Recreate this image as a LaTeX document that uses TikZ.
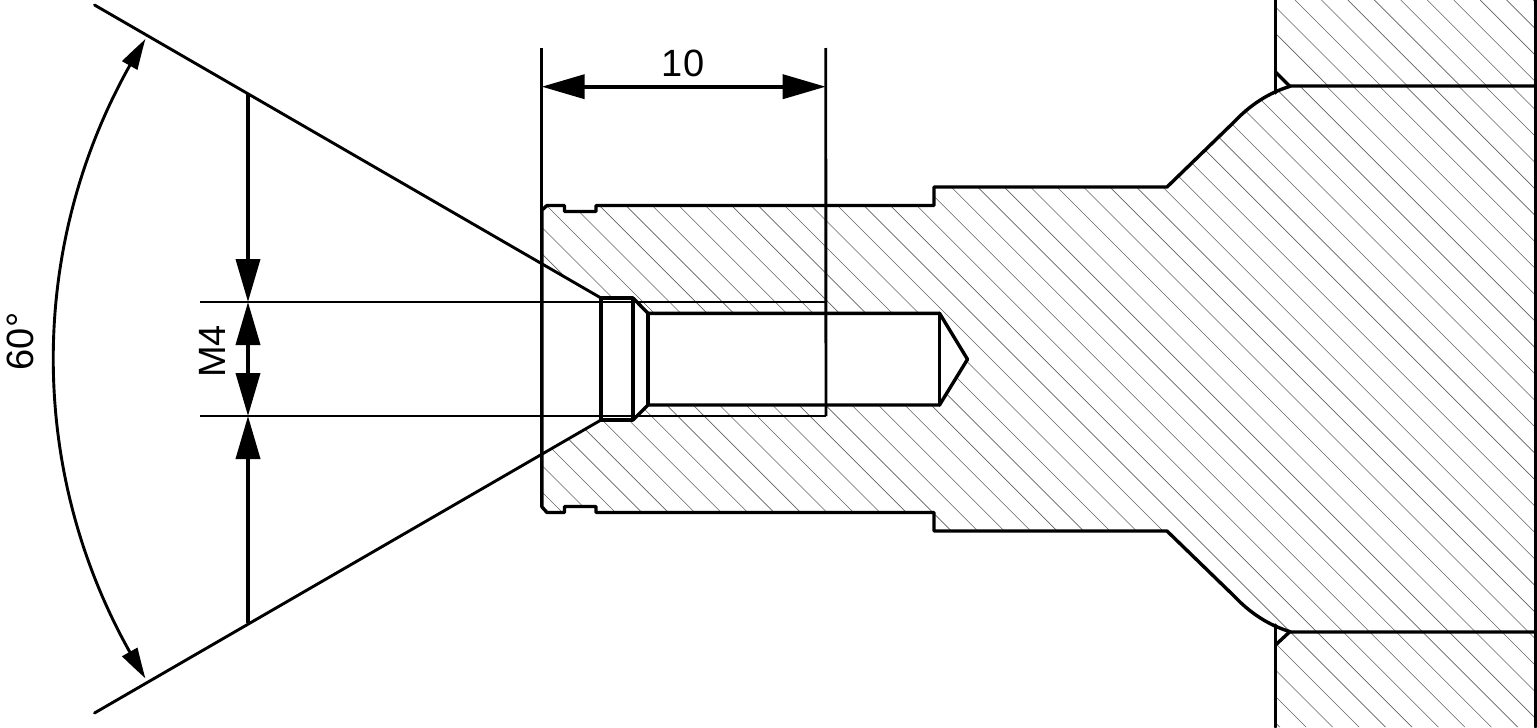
\documentclass[tikz,border=0pt]{standalone}
\usepackage{fontspec}
\setmainfont{Liberation Sans}
\usetikzlibrary{arrows.meta,bending}
\tikzset{
  px/.style={x=0.5pt,y=-0.5pt},
  profile/.style={line width=1.7pt,line join=round,line cap=round},
  thinline/.style={line width=1.45pt,line cap=butt},
  hatchline/.style={line width=0.3pt,black!62},
  dimline/.style={line width=1.9pt},
  dimtip/.style={-{Triangle[length=21.5pt,width=12pt]}},
  angtip/.style={{Triangle[length=15.5pt,width=8.5pt,bend]}-{Triangle[length=15.5pt,width=8.5pt,bend]}},
  dimtext/.style={font=\fontsize{19}{19}\selectfont,inner sep=0pt,anchor=base}
}
\begin{document}
\begin{tikzpicture}[px]
\useasboundingbox (0,0) rectangle (1537,728);
% key points
\coordinate (apexT) at (601,298);
\coordinate (apexB) at (601,420);
\coordinate (lineT) at (94.5,5);
\coordinate (lineB) at (94.5,713);
\coordinate (wallTa) at (1275.5,0);
\coordinate (wallBa) at (1275.5,727);
\coordinate (rightT) at (1535.5,0);
\coordinate (rightB) at (1535.5,727);
% hatching: body
\begin{scope}
\clip (542,210) -- (547,205.5) -- (564.5,205.5) -- (564.5,211.5) -- (596,211.5) -- (596,205.5)
  -- (934,205.5) -- (934,187) -- (1167,187) -- (1233,123)
  .. controls (1250,105) and (1268,93) .. (1291,86) -- (rightT |- 0,86) -- (rightB |- 0,632) -- (1291,632)
  .. controls (1268,625) and (1250,613) .. (1233,595) -- (1167,531) -- (934,531) -- (934,512.5)
  -- (596,512.5) -- (596,506.5) -- (564.5,506.5) -- (564.5,512.5) -- (547,512.5) -- (542,507)
  -- (542,454) -- (apexB) -- (633,420) -- (648,405) -- (939.5,405) -- (967.5,359.3) -- (939.5,313.3)
  -- (648,313.3) -- (633,298) -- (apexT) -- (542,264) -- cycle;
\foreach \k in {-12,...,42}
  \draw[hatchline] ({341+26.45*\k},0) -- ({341+26.45*\k+728},728);
\end{scope}
% hatching: upper wall
\begin{scope}
\clip (wallTa) -- (1275.5,72) -- (1289.5,86) -- (rightT |- 0,86) -- (rightT) -- cycle;
\foreach \k in {-2,...,9}
  \draw[hatchline] ({1295+26.45*\k},0) -- ({1295+26.45*\k+728},728);
\end{scope}
% hatching: lower wall
\begin{scope}
\clip (wallBa) -- (1275.5,645) -- (1289.5,632) -- (rightB |- 0,632) -- (rightB) -- cycle;
\foreach \k in {6,...,36}
  \draw[hatchline] ({341+26.45*\k},0) -- ({341+26.45*\k+728},728);
\end{scope}
% body outline
\draw[profile] (1535.5,86) -- (1291,86)
  .. controls (1268,93) and (1250,105) .. (1233,123) -- (1167,187) -- (934,187) -- (934,205.5)
  -- (596,205.5) -- (596,211.5) -- (564.5,211.5) -- (564.5,205.5) -- (547,205.5) -- (542,210)
  -- (542,507) -- (547,512.5) -- (564.5,512.5) -- (564.5,506.5) -- (596,506.5) -- (596,512.5)
  -- (934,512.5) -- (934,531) -- (1167,531) -- (1233,595)
  .. controls (1250,613) and (1268,625) .. (1291,632) -- (1535.5,632);
\draw[profile] (rightT) -- (rightB);
% wall
\draw[profile] (wallTa) -- (1275.5,93);
\draw[profile] (1275.5,72) -- (1289.5,86);
\draw[profile] (wallBa) -- (1275.5,625);
\draw[profile] (1275.5,645) -- (1289.5,632);
% threaded hole
\draw[profile] (apexT) -- (633,298) -- (633,420) -- (apexB) -- cycle;
\draw[profile] (633,298) -- (648,313.3) -- (939.5,313.3) -- (967.5,359.3) -- (939.5,405) -- (648,405) -- (633,420);
\draw[profile] (648,313.3) -- (648,405);
\draw[profile] (939.5,313.3) -- (939.5,405);
% extension and cone lines
\coordinate (extTL) at (200,302);
\coordinate (extTR) at (826,302);
\coordinate (extBL) at (200,416);
\coordinate (extBR) at (826,416);
\coordinate (ext10a) at (541.7,48);
\coordinate (ext10b) at (825.7,48);
\draw[thinline] (extTL) -- (extTR);
\draw[thinline] (extBL) -- (extBR);
\draw[thinline] (ext10a) -- (541.7,507);
\draw[thinline] (ext10b) -- (extBR);
\draw[thinline,line cap=round] (lineT) -- (apexT);
\draw[thinline,line cap=round] (lineB) -- (apexB);
% dimension 10
\coordinate (d10a) at (541.7,86.7);
\coordinate (d10b) at (825.7,86.7);
\coordinate (d10m) at (683.7,86.7);
\draw[dimline,dimtip] (d10m) -- (d10a);
\draw[dimline,dimtip] (d10m) -- (d10b);
\node[dimtext] (t10) at (683,76) {10};
% dimension M4
\coordinate (m4top) at (248,93.5);
\coordinate (m4bot) at (248,623);
\coordinate (m4a) at (248,302);
\coordinate (m4b) at (248,416);
\coordinate (m4m) at (248,359);
\draw[dimline,dimtip] (m4top) -- (m4a);
\draw[dimline,dimtip] (m4m) -- (m4a);
\draw[dimline,dimtip] (m4m) -- (m4b);
\draw[dimline,dimtip] (m4bot) -- (m4b);
\node[dimtext,rotate=90] (tM4) at (225,351.5) {M4};
% angle 60
\coordinate (angT) at (145.5,39);
\draw[line width=1.45pt,angtip] (angT) arc[start angle=212.2,end angle=147.8,radius=600];
\node[dimtext,rotate=90] (t60) at (33,341.5) {60°};
\end{tikzpicture}
\end{document}
